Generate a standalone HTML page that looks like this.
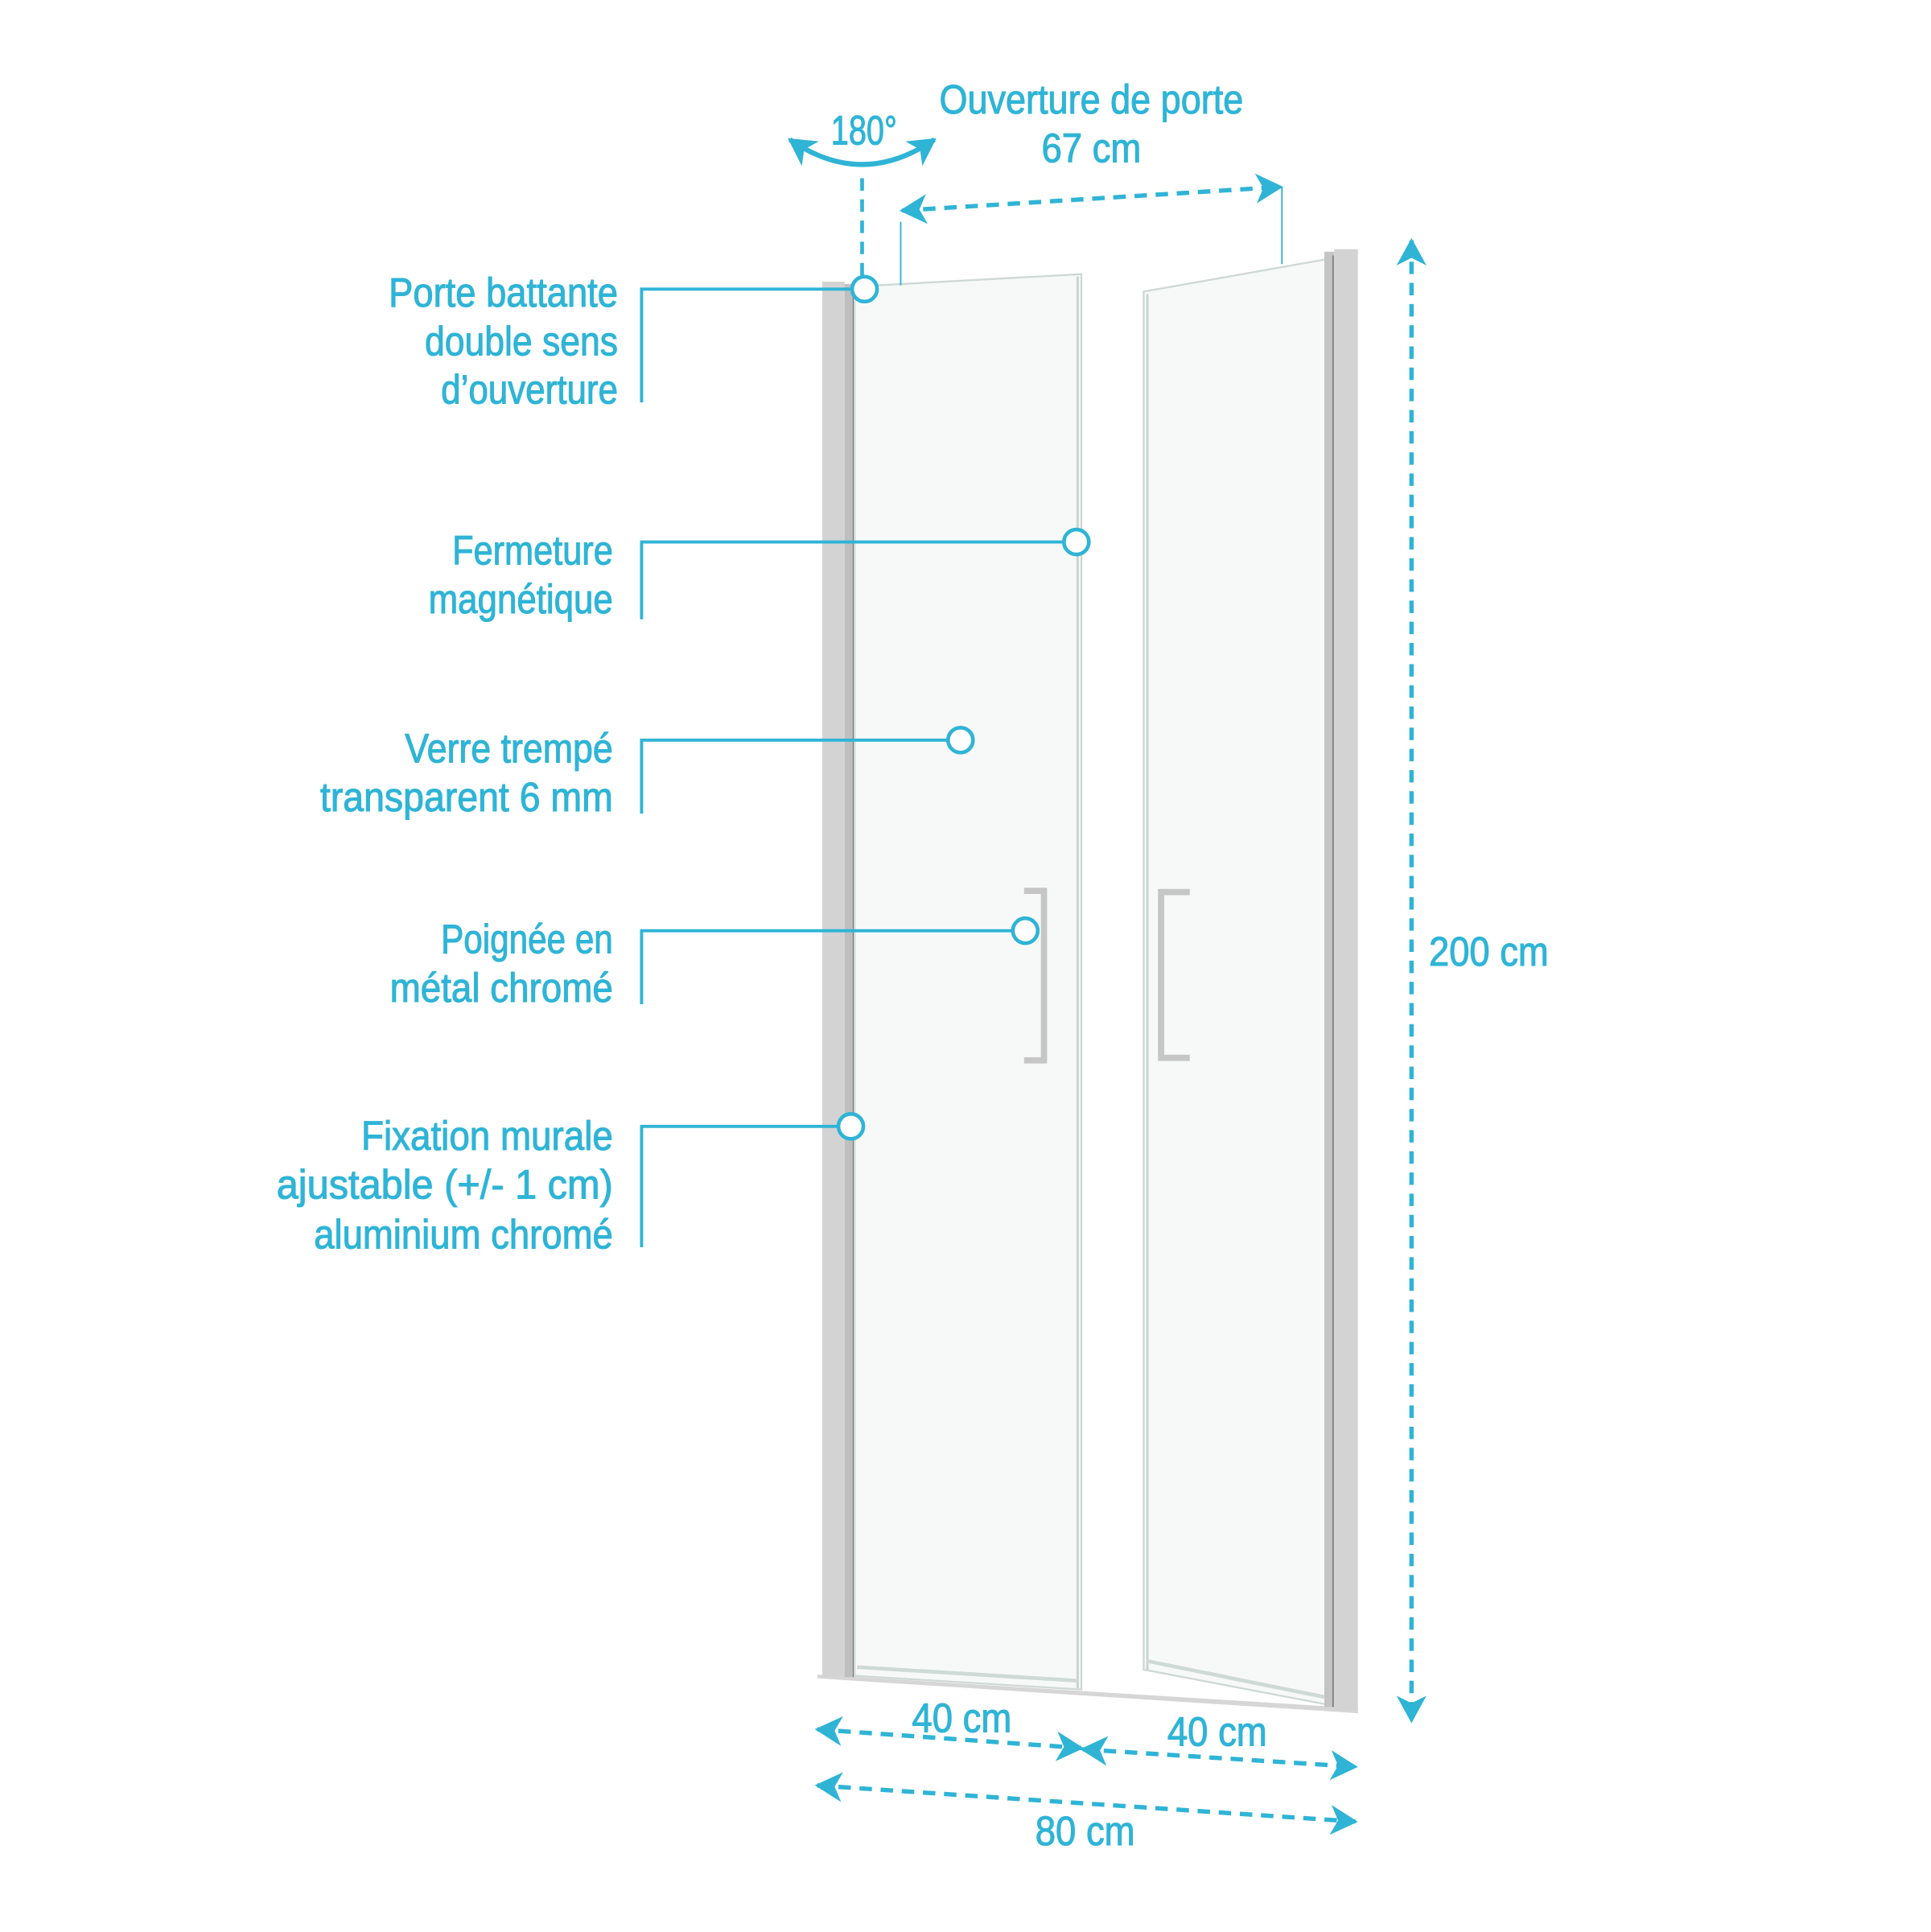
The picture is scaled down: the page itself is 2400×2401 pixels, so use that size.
<!DOCTYPE html>
<html><head><meta charset="utf-8"><style>
html,body{margin:0;padding:0;background:#fff}
svg{display:block}
text{font-family:"Liberation Sans","DejaVu Sans",sans-serif;fill:#2fb4d6;stroke:#2fb4d6;stroke-width:0.7;font-size:33px}
</style></head><body>
<svg width="2400" height="2401" viewBox="0 0 1550 1550.6" xmlns="http://www.w3.org/2000/svg">
<defs>
<marker id="ah" viewBox="0 0 22 24" refX="20" refY="12" markerWidth="22" markerHeight="24" markerUnits="userSpaceOnUse" orient="auto-start-reverse">
<path d="M0,0 L22,12 L0,24 L6,12 Z" fill="#2fb4d6"/></marker>
</defs>
<polygon points="656,1344 1090,1371 1090,1375 656,1347" fill="#d6d6d6"/>
<rect x="660" y="226" width="18" height="1120" fill="#d3d3d3"/>
<rect x="678" y="228" width="8" height="1118" fill="#bfbfbf"/>
<line x1="685" y1="230" x2="685" y2="1346" stroke="#777" stroke-width="1"/>
<polygon points="686,230 868,220 868,1356 686,1345" fill="#f7f9f8" stroke="#cfd8d4" stroke-width="1.5"/>
<line x1="865" y1="222" x2="865" y2="1355" stroke="#c8d6d0" stroke-width="2"/>
<line x1="688" y1="1338" x2="866" y2="1349" stroke="#cfd9d5" stroke-width="3"/>
<polygon points="918,234 1065,208 1065,1368 918,1340" fill="#f7f9f8" stroke="#cfd8d4" stroke-width="1.5"/>
<line x1="921" y1="236" x2="921" y2="1340" stroke="#c8d6d0" stroke-width="2"/>
<line x1="920" y1="1333" x2="1063" y2="1362" stroke="#cfd9d5" stroke-width="3"/>
<rect x="1063" y="202" width="8" height="1168" fill="#c4c4c4"/>
<rect x="1071" y="200" width="19" height="1173" fill="#d3d3d3"/>
<line x1="1070" y1="205" x2="1070" y2="1370" stroke="#777" stroke-width="1"/>
<path d="M822,715 H838 V851 H822" fill="none" stroke="#c6c6c6" stroke-width="5"/>
<path d="M955,716 H932 V849 H955" fill="none" stroke="#c6c6c6" stroke-width="5"/>
<g stroke="#2fb4d6" fill="none">
<g stroke-width="2.5">
<path d="M515,323 V232 H684"/>
<path d="M515,497 V435 H854"/>
<path d="M515,653 V594 H761"/>
<path d="M515,806 V747 H813"/>
<path d="M515,1001 V904 H673"/>
</g>
<g stroke-width="3" fill="#fff">
<circle cx="694" cy="232" r="10"/>
<circle cx="864" cy="435" r="10"/>
<circle cx="771" cy="594" r="10"/>
<circle cx="823" cy="747" r="10"/>
<circle cx="683" cy="904" r="10"/>
</g>
<line x1="723" y1="178" x2="723" y2="229" stroke-width="1.2"/>
<line x1="1029" y1="150" x2="1029" y2="212" stroke-width="1.2"/>
<g stroke-width="3.5" stroke-dasharray="10,7" marker-start="url(#ah)" marker-end="url(#ah)">
<line x1="724" y1="169" x2="1028" y2="150"/>
<line x1="1133" y1="193" x2="1133" y2="1381"/>
<line x1="656" y1="1388" x2="868" y2="1403"/>
<line x1="869" y1="1404" x2="1088" y2="1418"/>
<line x1="656" y1="1433" x2="1088" y2="1462"/>
</g>
<line x1="692" y1="143" x2="692" y2="223" stroke-width="3" stroke-dasharray="10,7"/>
<path d="M634,112 Q692,152 750,112" stroke-width="4" marker-start="url(#ah)" marker-end="url(#ah)"/>
</g>
<g lengthAdjust="spacingAndGlyphs">
<text x="754" y="91" textLength="244" lengthAdjust="spacingAndGlyphs">Ouverture de porte</text>
<text x="836" y="130" textLength="80" lengthAdjust="spacingAndGlyphs">67 cm</text>
<text x="667" y="116" textLength="53" lengthAdjust="spacingAndGlyphs">180°</text>
<text x="1147" y="775" textLength="96" lengthAdjust="spacingAndGlyphs">200 cm</text>
<text x="732" y="1390" textLength="80" lengthAdjust="spacingAndGlyphs">40 cm</text>
<text x="937" y="1401" textLength="80" lengthAdjust="spacingAndGlyphs">40 cm</text>
<text x="831" y="1481" textLength="80" lengthAdjust="spacingAndGlyphs">80 cm</text>
<text x="312" y="246" textLength="184" lengthAdjust="spacingAndGlyphs">Porte battante</text>
<text x="341" y="285" textLength="155" lengthAdjust="spacingAndGlyphs">double sens</text>
<text x="354" y="324" textLength="142" lengthAdjust="spacingAndGlyphs">d’ouverture</text>
<text x="363" y="453" textLength="129" lengthAdjust="spacingAndGlyphs">Fermeture</text>
<text x="344" y="492" textLength="148" lengthAdjust="spacingAndGlyphs">magnétique</text>
<text x="325" y="612" textLength="167" lengthAdjust="spacingAndGlyphs">Verre trempé</text>
<text x="257" y="651" textLength="235" lengthAdjust="spacingAndGlyphs">transparent 6 mm</text>
<text x="354" y="765" textLength="138" lengthAdjust="spacingAndGlyphs">Poignée en</text>
<text x="313" y="804" textLength="179" lengthAdjust="spacingAndGlyphs">métal chromé</text>
<text x="290" y="923" textLength="202" lengthAdjust="spacingAndGlyphs">Fixation murale</text>
<text x="222" y="962" textLength="270" lengthAdjust="spacingAndGlyphs">ajustable (+/- 1 cm)</text>
<text x="252" y="1002" textLength="240" lengthAdjust="spacingAndGlyphs">aluminium chromé</text>
</g>
</svg>
</body></html>
